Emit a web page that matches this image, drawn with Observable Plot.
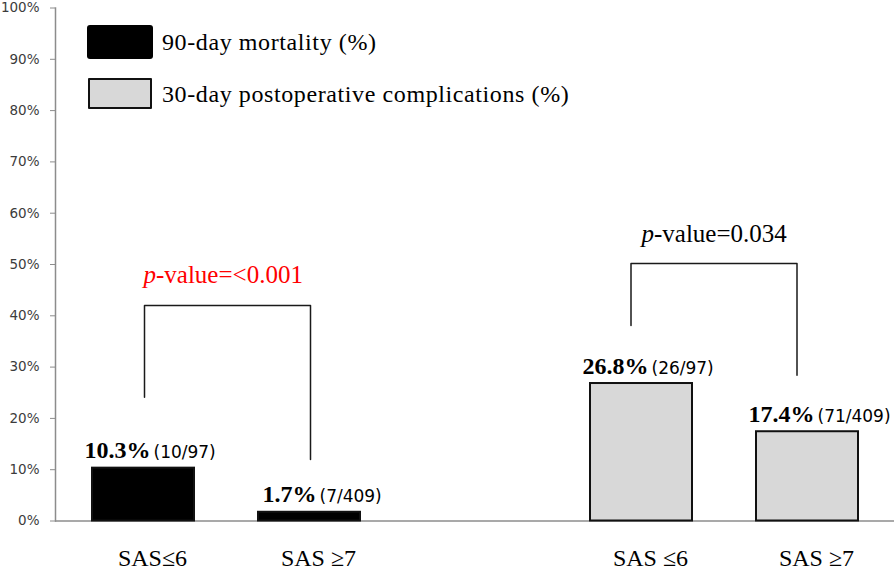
<!DOCTYPE html>
<html><head><meta charset="utf-8">
<script src="https://cdn.jsdelivr.net/npm/d3@7"></script>
<script src="https://cdn.jsdelivr.net/npm/@observablehq/plot@0.6"></script>
<style>
body{margin:0;background:#fff;}
#wrap{position:relative;width:894px;height:572px;overflow:hidden;}
.lg{position:absolute;}
.lg-text{position:absolute;left:162px;font-family:"Liberation Serif","Times New Roman",serif;font-size:24px;line-height:24px;letter-spacing:0.6px;color:#000;white-space:nowrap;}
</style></head><body><div id="wrap"></div>
<script>
// ---- data ----
const slots = ["m1", "m2", "gap", "c1", "c2"];
const slotLabels = ["SAS≤6", "SAS ≥7", "", "SAS ≤6", "SAS ≥7"];
const seriesNames = ["90-day mortality (%)", "30-day postoperative complications (%)"];
const mortalitySlots = ["m1", "m2"];
const mortalityValues = [10.3, 1.7];
const mortalityCounts = ["(10/97)", "(7/409)"];
const complicationSlots = ["c1", "c2"];
const complicationValues = [26.8, 17.4];
const complicationCounts = ["(26/97)", "(71/409)"];
const yTicks = [0, 10, 20, 30, 40, 50, 60, 70, 80, 90, 100];
// significance brackets: [left slot, right slot], leg bottoms / top (in %), label
const bracketSlots = [["m1", "m2"], ["c1", "c2"]];
const bracketLeft = [24.1, 38.1];
const bracketTop = [42.0, 50.2];
const bracketRight = [12.0, 28.4];
const bracketLabelY = [47.9, 55.9];
const bracketLabels = ["-value=<0.001", "-value=0.034"];
const bracketColors = ["#ff0000", "#000000"];

// ---- build tables ----
const labelOf = Object.fromEntries(slots.map((s, i) => [s, slotLabels[i]]));
const bars = [
  ...mortalitySlots.map((s, i) => ({slot: s, value: mortalityValues[i], count: mortalityCounts[i], series: seriesNames[0]})),
  ...complicationSlots.map((s, i) => ({slot: s, value: complicationValues[i], count: complicationCounts[i], series: seriesNames[1]}))
];
const bracketPts = bracketSlots.flatMap(([a, b], i) => [
  {id: i, slot: a, y: bracketLeft[i]},
  {id: i, slot: a, y: bracketTop[i]},
  {id: i, slot: b, y: bracketTop[i]},
  {id: i, slot: b, y: bracketRight[i]}
]);
const bracketText = bracketSlots.map(([a], i) => ({slot: a, y: bracketLabelY[i], label: bracketLabels[i], color: bracketColors[i]}));

const serif = "Liberation Serif, Times New Roman, serif";
const sans = "DejaVu Sans, Verdana, sans-serif";
const fillFor = d => d.series === seriesNames[0] ? "#000000" : "#d8d8d8";

const chart = Plot.plot({
  width: 894,
  height: 572,
  marginLeft: 55,
  marginRight: 0,
  marginTop: 7.5,
  marginBottom: 51.5,
  x: {type: "band", domain: slots, paddingInner: 0.388, paddingOuter: 0.21, align: 0.5, axis: null},
  y: {domain: [0, 100], axis: null},
  marks: [
    Plot.frame({anchor: "left", stroke: "#8c8c8c", strokeWidth: 1.5}),
    Plot.axisY(yTicks, {tickSize: 5, tickPadding: 11, tickFormat: d => d + "%", stroke: "#8c8c8c", fill: "#3c3c3c", fontSize: 13.5, fontFamily: sans, label: null}),
    Plot.axisX(slots, {tickSize: 0, tickPadding: 28, tickFormat: d => labelOf[d], fill: "#000", fontSize: 24, fontFamily: serif, dx: 9, label: null}),
    Plot.ruleY([0], {stroke: "#8c8c8c", strokeWidth: 1.5}),
    Plot.barY(bars, {x: "slot", y: "value", fill: fillFor, stroke: "#111", strokeWidth: 2}),
    Plot.text(bars, {x: "slot", y: "value", text: d => d.value.toFixed(1) + "%", textAnchor: "end", lineAnchor: "bottom", dx: 7, dy: -10, fontWeight: "bold", fontSize: 24, fontFamily: serif, fill: "#000"}),
    Plot.text(bars, {x: "slot", y: "value", text: "count", textAnchor: "start", lineAnchor: "bottom", dx: 10, dy: -10, fontSize: 17, fontFamily: sans, fill: "#000"}),
    Plot.line(bracketPts.filter(d => d.id === 0), {x: "slot", y: "y", stroke: "#1a1a1a", strokeWidth: 1.5, dx: 1}),
    Plot.line(bracketPts.filter(d => d.id === 1), {x: "slot", y: "y", stroke: "#1a1a1a", strokeWidth: 1.5, dx: -10.5}),
    Plot.text(bracketText, {x: "slot", y: "y", text: () => "p", textAnchor: "end", lineAnchor: "middle", dx: 12.5, fontStyle: "italic", fontSize: 25, fontFamily: serif, fill: "color"}),
    Plot.text(bracketText, {x: "slot", y: "y", text: "label", textAnchor: "start", lineAnchor: "middle", dx: 12.5, fontSize: 25, fontFamily: serif, fill: "color"})
  ]
});

const wrap = document.getElementById("wrap");
wrap.appendChild(chart);

// legend (drawn over the plot area, as in the original)
const lg = [
  {top: 25, left: 87, w: 66, h: 34, bg: "#000", border: "none", radius: "3px", textTop: 30},
  {top: 78, left: 88, w: 64, h: 31, bg: "#d8d8d8", border: "2px solid #111", radius: "1px", textTop: 82}
];
lg.forEach((o, i) => {
  const sw = document.createElement("div");
  sw.className = "lg";
  Object.assign(sw.style, {top: o.top + "px", left: o.left + "px", width: o.w + "px", height: o.h + "px", background: o.bg, border: o.border, borderRadius: o.radius, boxSizing: "border-box"});
  wrap.appendChild(sw);
  const t = document.createElement("div");
  t.className = "lg-text";
  t.style.top = o.textTop + "px";
  t.textContent = seriesNames[i];
  wrap.appendChild(t);
});
</script>
</body></html>
